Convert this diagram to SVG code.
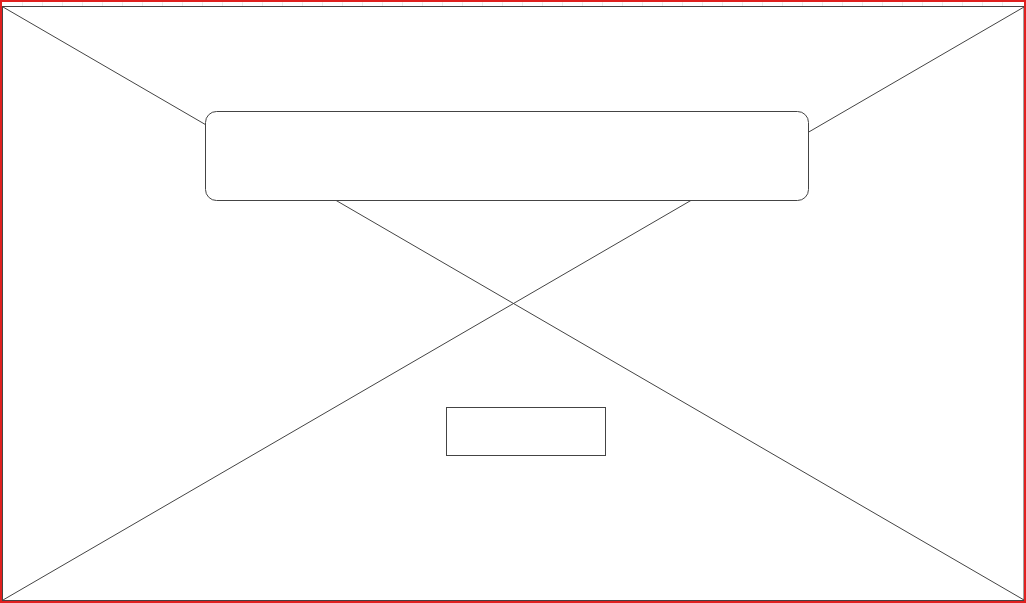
<svg xmlns="http://www.w3.org/2000/svg" width="1026" height="603" viewBox="0 0 1026 603">
  <style>
    .edge { stroke: #444; stroke-width: 1; fill: none; }
    .box { fill: #fff; stroke: #444; stroke-width: 1; }
    .frame { fill: none; stroke: #444; stroke-width: 1; }
    .outer { fill: none; stroke: #e0201f; stroke-width: 2; }
    .tick { stroke: #ececec; stroke-width: 1; }
  </style>
  <rect x="0" y="0" width="1026" height="603" fill="#fff"/>
  <g id="ticks">
    <path class="tick" d="M22.5 1.5V6M42.5 1.5V6M62.5 1.5V6M82.5 1.5V6M102.5 1.5V6M122.5 1.5V6M142.5 1.5V6M162.5 1.5V6M182.5 1.5V6M202.5 1.5V6M222.5 1.5V6M242.5 1.5V6M262.5 1.5V6M282.5 1.5V6M302.5 1.5V6M322.5 1.5V6M342.5 1.5V6M362.5 1.5V6M382.5 1.5V6M402.5 1.5V6M422.5 1.5V6M442.5 1.5V6M462.5 1.5V6M482.5 1.5V6M502.5 1.5V6M522.5 1.5V6M542.5 1.5V6M562.5 1.5V6M582.5 1.5V6M602.5 1.5V6M622.5 1.5V6M642.5 1.5V6M662.5 1.5V6M682.5 1.5V6M702.5 1.5V6M722.5 1.5V6M742.5 1.5V6M762.5 1.5V6M782.5 1.5V6M802.5 1.5V6M822.5 1.5V6M842.5 1.5V6M862.5 1.5V6M882.5 1.5V6M902.5 1.5V6M922.5 1.5V6M942.5 1.5V6M962.5 1.5V6M982.5 1.5V6M1002.5 1.5V6"/>
  </g>
  <g id="frame">
    <rect class="frame" x="2.5" y="6.5" width="1021.5" height="594"/>
  </g>
  <g id="connectors">
    <line class="edge" x1="3" y1="7" x2="1024" y2="600"/>
    <line class="edge" x1="1024" y1="7" x2="3" y2="600"/>
  </g>
  <g id="banner">
    <rect class="box" x="205.5" y="111.5" width="603" height="89" rx="11" ry="11"/>
  </g>
  <g id="button">
    <rect class="box" x="446.5" y="407.5" width="159" height="48"/>
  </g>
  <g id="border">
    <rect class="outer" x="1" y="1" width="1024" height="601"/>
  </g>
</svg>
